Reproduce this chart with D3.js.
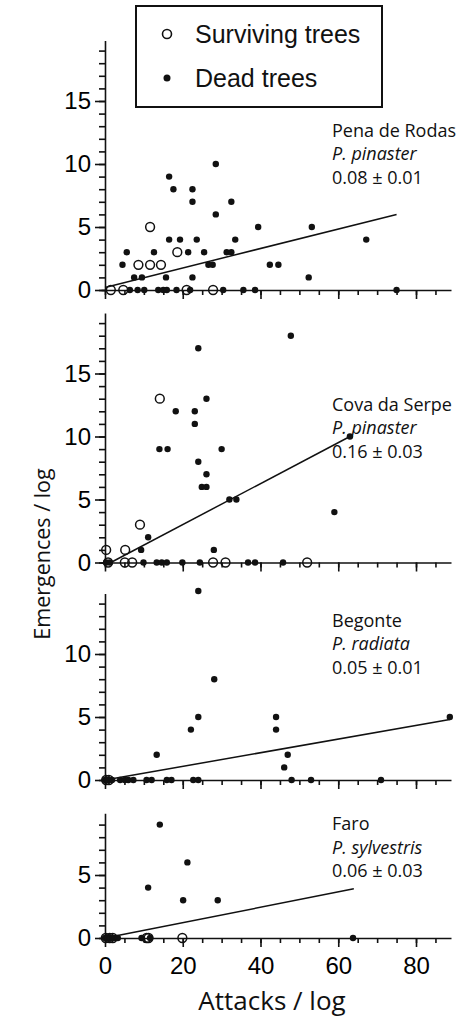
<!DOCTYPE html>
<html>
<head>
<meta charset="utf-8">
<script src="https://d3js.org/d3.v7.min.js"></script>
<style>
  body { margin: 0; background: #fff; }
  svg { display: block; }
</style>
</head>
<body>
<div id="chart"></div>
<script>
// Site / species / fitted slope for each panel (top to bottom)
var sites = ["Pena de Rodas", "Cova da Serpe", "Begonte", "Faro"];
var species = ["P. pinaster", "P. pinaster", "P. radiata", "P. sylvestris"];
var slopes = ["0.08 ± 0.01", "0.16 ± 0.03", "0.05 ± 0.01", "0.06 ± 0.03"];

// y axis extent and tick labels per panel
var yMax = [19.8, 19.8, 14.8, 9.9];
var yTicks = [[0, 5, 10, 15], [0, 5, 10, 15], [0, 5, 10], [0, 5]];
var xTicks = [0, 20, 40, 60, 80];
var legendLabels = ["Surviving trees", "Dead trees"];

// [attacks, emergences]
var penaDead = [[16.5,9],[17.6,8],[28.5,10],[22.5,8],[22.5,7],[32.5,7],[28.5,6],[39.4,5],[53.2,5],
  [67.2,4],[16.5,4],[19.3,4],[23.6,4],[33.5,4],[5.6,3],[12.6,3],[21.4,3],[25.5,3],[31.3,3],[32.5,3],
  [4.5,2],[26.6,2],[27.7,2],[42.4,2],[44.6,2],[7.5,1],[9.5,1],[15.7,1],[22.5,1],[52.4,1],
  [6.4,0],[8.4,0],[10.1,0],[13.7,0],[15,0],[15.9,0],[18.4,0],[21.9,0],[30.4,0],[35.6,0],[38.6,0],[75,0]];
var penaSurv = [[11.6,5],[18.6,3],[8.6,2],[11.6,2],[14.4,2],[1.5,0],[4.7,0],[21,0],[27.8,0]];
var penaFit = [[0,0.2],[75,6.0]];

var covaDead = [[47.8,18],[24,17],[26.1,13],[18.2,12],[23.1,12],[23.1,11],[14,9],[16.1,9],[30,9],
  [24,8],[26.1,7],[24.9,6],[26.1,6],[32,5],[33.8,5],[63,10],[59,4],[11.1,2],[9.3,1],[28,1],
  [0.3,0],[1.2,0],[9.9,0],[13.3,0],[14.6,0],[15.9,0],[19.9,0],[24.4,0],[36.8,0],[38.6,0],[45.8,0]];
var covaSurv = [[14.1,13],[9,3],[0.3,1],[5.2,1],[0.8,0],[5.1,0],[7,0],[27.8,0],[31,0],[52,0]];
var covaFit = [[1.5,0],[63,10]];

var begonteDead = [[24,15],[28.1,8],[24,5],[22.1,4],[44,5],[44,4],[47,2],[46.1,1],[13.3,2],[88.7,5],
  [0,0],[0.8,0],[1.8,0],[3.9,0],[5.1,0],[6,0],[7.3,0],[10.7,0],[12,0],[15.9,0],[17.1,0],
  [22.7,0],[24,0],[48,0],[53,0],[71,0]];
var begonteSurv = [[0.3,0],[1,0]];
var begonteFit = [[0,0],[88.7,4.8]];

var faroDead = [[14.1,9],[21.2,6],[11.1,4],[20.1,3],[29,3],
  [0,0],[0.8,0],[1.6,0],[2.5,0],[3.3,0],[9.4,0],[11.6,0],[63.8,0]];
var faroSurv = [[0.2,0],[1.2,0],[2,0],[10.7,0],[11.2,0],[19.9,0]];
var faroFit = [[0,0],[64,3.9]];

var deadTrees = [penaDead, covaDead, begonteDead, faroDead];
var survTrees = [penaSurv, covaSurv, begonteSurv, faroSurv];
var fits = [penaFit, covaFit, begonteFit, faroFit];

// where the site label sits (emergence value of first text line)
var labelY = [12.7, 12.6, 12.7, 9.1];

function init(){

  var w = 467;
  var h = 1018;
  var ink = "#111";

  // every panel shares the same pixels per emergence
  var unit = 12.6;
  var baselines = [290, 562.5, 780, 938];

  var svg = d3.select("#chart")
              .append("svg")
              .attr("width", w)
              .attr("height", h);

  // x scale shared by all panels, axis line starts just left of 0
  var xScale = d3.scaleLinear().domain([-1, 89]).range([101.1, 451]);

  var line = d3.line()
               .x(function(d){ return xScale(d[0]); });

  sites.forEach(function(site, i){

    var yScale = d3.scaleLinear()
                   .domain([0, yMax[i]])
                   .range([baselines[i], baselines[i] - yMax[i] * unit]);

    var g = svg.append("g");

    // minor y ticks
    g.append("g")
     .attr("transform", "translate(" + xScale(0) + ",0)")
     .call(d3.axisLeft(yScale).tickValues(d3.range(0, yMax[i], 1)).tickSize(6).tickSizeOuter(0).tickFormat(""))
     .call(function(a){ a.select(".domain").remove(); });

    // major y ticks + axis line
    g.append("g")
     .attr("transform", "translate(" + xScale(0) + ",0)")
     .call(d3.axisLeft(yScale).tickValues(yTicks[i]).tickSize(10).tickSizeOuter(0).tickPadding(4))
     .call(function(a){
        a.selectAll("text").style("font-family", "'Liberation Sans', Arial, sans-serif").style("font-size", "24px");
     });

    // minor x ticks
    g.append("g")
     .attr("transform", "translate(0," + baselines[i] + ")")
     .call(d3.axisBottom(xScale).tickValues(d3.range(0, 90, 5)).tickSize(5).tickSizeOuter(0).tickFormat(""))
     .call(function(a){ a.select(".domain").remove(); });

    // major x ticks, labels only on bottom panel
    var xAxis = d3.axisBottom(xScale).tickValues(xTicks).tickSize(9).tickSizeOuter(0).tickPadding(10);
    if (i < sites.length - 1) xAxis.tickFormat("");
    g.append("g")
     .attr("transform", "translate(0," + baselines[i] + ")")
     .call(xAxis)
     .call(function(a){
        a.selectAll("text").style("font-family", "'Liberation Sans', Arial, sans-serif").style("font-size", "24px");
     });

    g.selectAll("path, line").attr("stroke", ink).attr("stroke-width", 1.6);

    // regression line
    line.y(function(d){ return yScale(d[1]); });
    g.append("path")
     .datum(fits[i])
     .attr("d", line)
     .attr("fill", "none")
     .attr("stroke", ink)
     .attr("stroke-width", 1.5);

    // dead trees
    g.selectAll("circle.dead")
     .data(deadTrees[i])
     .enter()
     .append("circle")
     .attr("class", "dead")
     .attr("cx", function(d){ return xScale(d[0]); })
     .attr("cy", function(d){ return yScale(d[1]); })
     .attr("r", 3.2)
     .attr("fill", ink);

    // surviving trees
    g.selectAll("circle.surv")
     .data(survTrees[i])
     .enter()
     .append("circle")
     .attr("class", "surv")
     .attr("cx", function(d){ return xScale(d[0]); })
     .attr("cy", function(d){ return yScale(d[1]); })
     .attr("r", 4.4)
     .attr("fill", "none")
     .attr("stroke", ink)
     .attr("stroke-width", 1.5);

    // site label
    var lab = g.append("text")
               .attr("x", 332)
               .attr("y", yScale(labelY[i]))
               .style("font-family", "'Open Sans', sans-serif")
               .style("font-size", "18px")
               .attr("fill", ink)
               .attr("dominant-baseline", "central");
    lab.append("tspan").attr("x", 332).attr("dy", 0).text(site);
    lab.append("tspan").attr("x", 332).attr("dy", 23.5).style("font-style", "italic").text(species[i]);
    lab.append("tspan").attr("x", 332).attr("dy", 23.5).text(slopes[i]);
  });

  // legend
  var legend = svg.append("g");
  legend.append("rect")
        .attr("x", 136).attr("y", 6)
        .attr("width", 246).attr("height", 101)
        .attr("fill", "#fff")
        .attr("stroke", ink)
        .attr("stroke-width", 2);

  legendLabels.forEach(function(lbl, j){
    var cy = 34 + j * 44;
    var c = legend.append("circle").attr("cx", 167).attr("cy", cy);
    if (j === 0) {
      c.attr("r", 4.5).attr("fill", "none").attr("stroke", ink).attr("stroke-width", 1.6);
    } else {
      c.attr("r", 3.5).attr("fill", ink);
    }
    legend.append("text")
          .attr("x", 195).attr("y", cy)
          .attr("dominant-baseline", "central")
          .style("font-family", "'Liberation Sans', Arial, sans-serif")
          .style("font-size", "25px")
          .attr("fill", ink)
          .text(lbl);
  });

  // axis titles
  svg.append("text")
     .attr("transform", "translate(41,554) rotate(-90)")
     .attr("text-anchor", "middle")
     .attr("dominant-baseline", "central")
     .style("font-family", "'Open Sans', sans-serif")
     .style("font-size", "21.5px")
     .attr("fill", ink)
     .text("Emergences / log");

  svg.append("text")
     .attr("x", 272).attr("y", 1010)
     .attr("text-anchor", "middle")
     .style("font-family", "'Open Sans', sans-serif")
     .style("font-size", "26px")
     .attr("fill", ink)
     .text("Attacks / log");
}

window.onload = init;
</script>
</body>
</html>
